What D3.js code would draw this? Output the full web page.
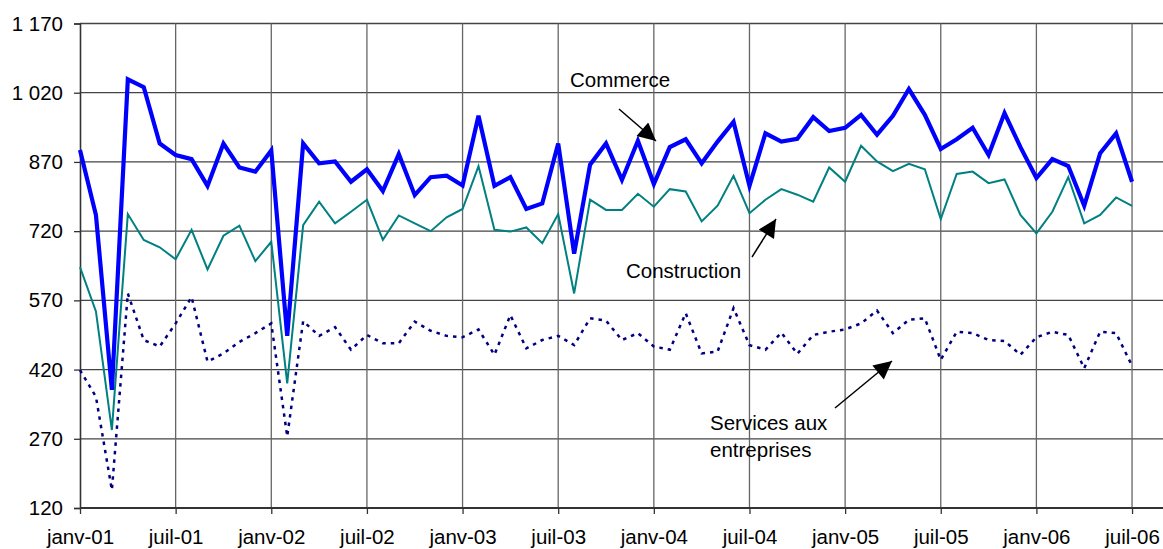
<!DOCTYPE html>
<html lang="fr">
<head>
<meta charset="UTF-8">
<title>Commerce, construction, services</title>
<script src="https://d3js.org/d3.v7.min.js"></script>
<style>
  body { margin: 0; background: #fff; }
  text { font-family: Arial, "Liberation Sans", sans-serif; fill: #000; }
  .tick-label { font-size: 20.5px; }
  .note { font-size: 20.5px; }
</style>
</head>
<body>
<svg width="1163" height="549"></svg>
<script>
// monthly values, janv-01 .. juil-06
const commerce = [896,755,376,1049,1032,910,885,876,818,910,858,849,895,493,910,867,871,827,854,807,887,798,837,840,819,970,818,837,768,780,910,671,864,910,831,916,822,902,919,867,914,957,818,932,914,920,967,937,944,972,929,970,1028,972,898,919,944,885,976,902,835,876,861,775,889,932,827];
const construction = [642,546,289,757,701,685,659,723,637,710,732,655,697,390,733,784,737,762,788,701,754,737,720,750,768,861,723,719,728,694,757,585,788,766,766,801,773,811,806,741,775,840,759,788,811,799,784,858,827,905,871,850,866,854,746,844,849,824,832,755,715,762,837,737,755,793,775];
const services = [419,361,159,585,484,470,520,577,437,455,480,499,520,275,525,493,512,463,495,477,477,524,504,493,490,507,452,538,466,484,493,473,531,526,484,499,470,463,542,455,459,553,473,463,500,454,495,502,507,520,548,499,528,531,441,502,499,484,482,452,490,502,495,423,502,499,428];

const xTickLabels = ['janv-01','juil-01','janv-02','juil-02','janv-03','juil-03','janv-04','juil-04','janv-05','juil-05','janv-06','juil-06'];
const yTicks = [120, 270, 420, 570, 720, 870, 1020, 1170];

const svg = d3.select('svg');
const plotLeft = 80, plotTop = 23.5, plotBottom = 508, plotRight = 1163, monthW = 15.94;

const x = d3.scaleLinear().domain([0, 68]).range([plotLeft, plotLeft + 68 * monthW]);
const y = d3.scaleLinear().domain([120, 1170]).range([plotBottom, plotTop]);

const fr = d3.formatLocale({ decimal: ',', thousands: ' ', grouping: [3], currency: ['', ' €'] });
const fmt = fr.format(',d');

// grid
svg.append('g')
  .selectAll('line')
  .data(yTicks.slice(1))
  .join('line')
  .attr('x1', plotLeft).attr('x2', plotRight)
  .attr('y1', d => y(d)).attr('y2', d => y(d))
  .attr('stroke', '#444').attr('stroke-width', 1.3);

svg.append('g')
  .selectAll('line')
  .data(xTickLabels.map((d, i) => i * 6).slice(1))
  .join('line')
  .attr('x1', d => x(d)).attr('x2', d => x(d))
  .attr('y1', plotTop).attr('y2', plotBottom)
  .attr('stroke', '#666').attr('stroke-width', 1.3);

// axes
const yAxis = svg.append('g')
  .attr('transform', `translate(${plotLeft},0)`)
  .call(d3.axisLeft(y).tickValues(yTicks).tickFormat(fmt).tickSize(6).tickPadding(11));
yAxis.select('.domain').attr('stroke', '#333').attr('stroke-width', 1.6);
yAxis.selectAll('.tick line').attr('stroke', '#333').attr('stroke-width', 1.3);
yAxis.selectAll('.tick text').attr('class', 'tick-label');
yAxis.attr('font-family', null).attr('font-size', null);

const xAxis = svg.append('g')
  .attr('transform', `translate(0,${plotBottom})`)
  .call(d3.axisBottom(x).tickValues(xTickLabels.map((d, i) => i * 6))
    .tickFormat((d, i) => xTickLabels[i]).tickSize(6).tickSizeOuter(0).tickPadding(15));
xAxis.select('.domain').attr('d', `M${plotLeft},0H${plotRight}`).attr('stroke', '#333').attr('stroke-width', 1.8);
xAxis.selectAll('.tick line').attr('stroke', '#333').attr('stroke-width', 1.3);
xAxis.selectAll('.tick text').attr('class', 'tick-label');
xAxis.attr('font-family', null).attr('font-size', null);

// series
const line = d3.line().x((d, i) => x(i)).y(d => y(d));

svg.append('path').datum(services)
  .attr('d', line).attr('fill', 'none')
  .attr('stroke', '#000080').attr('stroke-width', 2.5)
  .attr('stroke-dasharray', '3.5,5');

svg.append('path').datum(construction)
  .attr('d', line).attr('fill', 'none')
  .attr('stroke', '#008080').attr('stroke-width', 2);

svg.append('path').datum(commerce)
  .attr('d', line).attr('fill', 'none')
  .attr('stroke', '#0000ff').attr('stroke-width', 4.2);

// annotations
const notes = [
  { lines: ['Commerce'], tx: 570, ty: 87, from: [619, 109], to: [656, 141] },
  { lines: ['Construction'], tx: 626, ty: 278, from: [752, 257], to: [776, 219] },
  { lines: ['Services aux', 'entreprises'], tx: 710, ty: 430, from: [835, 408], to: [892, 361] }
];

svg.append('defs').append('marker')
  .attr('id', 'head')
  .attr('viewBox', '0 0 10 10')
  .attr('refX', 10).attr('refY', 5)
  .attr('markerWidth', 22).attr('markerHeight', 18)
  .attr('markerUnits', 'userSpaceOnUse')
  .attr('orient', 'auto')
  .append('path').attr('d', 'M0,0L10,5L0,10Z').attr('fill', '#000');

const ng = svg.append('g').selectAll('g').data(notes).join('g');
ng.append('line')
  .attr('x1', d => d.from[0]).attr('y1', d => d.from[1])
  .attr('x2', d => d.to[0]).attr('y2', d => d.to[1])
  .attr('stroke', '#000').attr('stroke-width', 1.5)
  .attr('marker-end', 'url(#head)');
ng.append('text')
  .attr('class', 'note')
  .attr('x', d => d.tx).attr('y', d => d.ty)
  .selectAll('tspan').data(d => d.lines.map(l => ({ l, x: d.tx })))
  .join('tspan')
  .attr('x', d => d.x).attr('dy', (d, i) => i ? 27 : 0)
  .text(d => d.l);
</script>
</body>
</html>
